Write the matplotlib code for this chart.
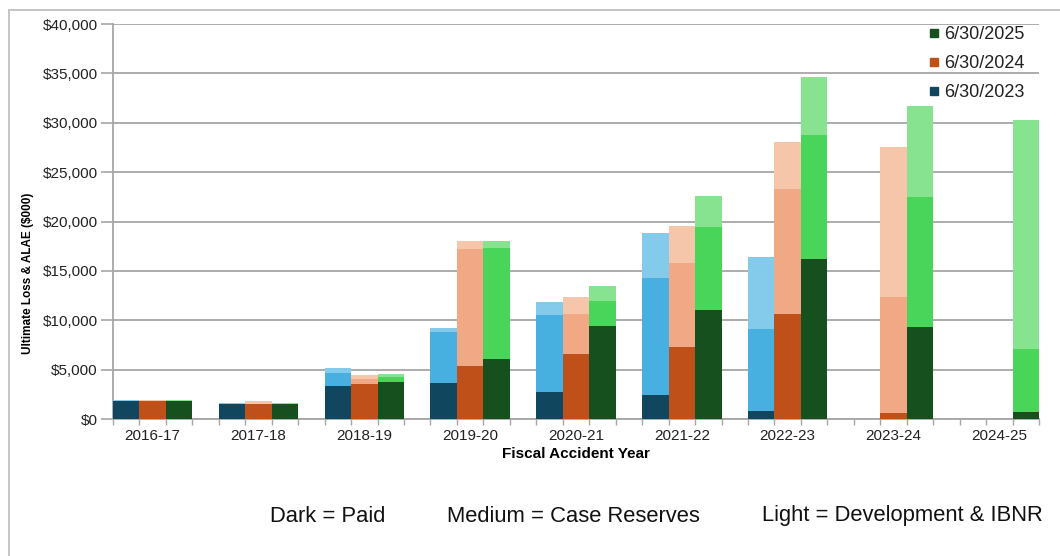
import matplotlib
matplotlib.use("Agg")
import matplotlib.pyplot as plt
from matplotlib.lines import Line2D
from matplotlib.ticker import FixedLocator, FuncFormatter

plt.rcParams['font.family'] = ['Liberation Sans', 'DejaVu Sans']

# ---------------- data ($000) ----------------
years = ['2016-17', '2017-18', '2018-19', '2019-20', '2020-21',
         '2021-22', '2022-23', '2023-24', '2024-25']
series_labels = ['6/30/2023', '6/30/2024', '6/30/2025']

paid_2023 = [1850, 1520, 3370, 3610, 2770, 2430, 840, 0, 0]
case_2023 = [0, 0, 1320, 5170, 7760, 11820, 8240, 0, 0]
ibnr_2023 = [80, 70, 470, 410, 1290, 4620, 7360, 0, 0]

paid_2024 = [1850, 1520, 3540, 5400, 6550, 7320, 10630, 570, 0]
case_2024 = [0, 0, 480, 11790, 4050, 8450, 12630, 11750, 0]
ibnr_2024 = [80, 270, 410, 840, 1720, 3810, 4820, 15260, 0]

paid_2025 = [1850, 1520, 3720, 6110, 9430, 11040, 16240, 9350, 740]
case_2025 = [0, 0, 500, 11180, 2520, 8440, 12520, 13170, 6320]
ibnr_2025 = [80, 70, 340, 740, 1550, 3100, 5840, 9180, 23220]

y_ticks = [0, 5000, 10000, 15000, 20000, 25000, 30000, 35000, 40000]

# ---------------- styles ----------------
colors = {
    '2023': ['#11465F', '#47B0E0', '#84CAEB'],
    '2024': ['#C0501A', '#F0A984', '#F5C6AA'],
    '2025': ['#16501E', '#48D55A', '#88E391'],
}
grid_c = '#A6A6A6'

W, H = 1060, 556
fig = plt.figure(figsize=(W / 100, H / 100), dpi=100)
ax = fig.add_axes([113 / W, 1 - 419 / H, (1039 - 113) / W, (419 - 24) / H])

series = [
    ('2023', paid_2023, case_2023, ibnr_2023),
    ('2024', paid_2024, case_2024, ibnr_2024),
    ('2025', paid_2025, case_2025, ibnr_2025),
]
for j, (key, paid, case, ibnr) in enumerate(series):
    xs = [4 * i + j + 0.5 for i in range(len(years))]
    c = colors[key]
    bottoms2 = [p + cs for p, cs in zip(paid, case)]
    ax.bar(xs, paid, width=1.0, color=c[0], linewidth=0, zorder=3)
    ax.bar(xs, case, width=1.0, bottom=paid, color=c[1], linewidth=0, zorder=3)
    ax.bar(xs, ibnr, width=1.0, bottom=bottoms2, color=c[2], linewidth=0, zorder=3)

ax.set_xlim(0, 35)
ax.set_ylim(0, 40000)

ax.yaxis.set_major_locator(FixedLocator(y_ticks))
ax.yaxis.set_major_formatter(FuncFormatter(lambda v, p: '${:,.0f}'.format(v)))
ax.grid(axis='y', color=grid_c, linewidth=1.3, zorder=0)
ax.set_axisbelow(True)

ax.set_xticks([4 * i + 1.5 for i in range(len(years))])
ax.set_xticklabels(years)
ax.set_xticks(list(range(0, 36)), minor=True)
ax.tick_params(axis='x', which='major', length=0, pad=7, labelsize=11, colors='#222222')
ax.tick_params(axis='x', which='minor', length=4, width=1, color=grid_c, direction='out')
ax.tick_params(axis='y', which='major', length=9, width=1.2, color=grid_c, pad=2,
               labelsize=11, labelcolor='#222222')

for s in ['top', 'right']:
    ax.spines[s].set_visible(False)
for s in ['left', 'bottom']:
    ax.spines[s].set_color(grid_c)
    ax.spines[s].set_linewidth(1.3)

ax.set_ylabel('Ultimate Loss & ALAE ($000)', fontsize=8.5, fontweight='bold')
ax.yaxis.set_label_coords((34 - 113) / 926, (419 - 273) / 395)
ax.set_xlabel('Fiscal Accident Year', fontsize=11, fontweight='bold', labelpad=3)

# legend
handles = [Line2D([], [], marker='s', linestyle='none', markersize=6,
                  color=colors[k][0]) for k in ['2025', '2024', '2023']]
leg = fig.legend(handles, series_labels[::-1], loc='upper right',
                 bbox_to_anchor=(1034 / W, 1 - 17 / H), frameon=False,
                 fontsize=13, handlelength=0.6, handletextpad=0.3,
                 labelspacing=0.66, borderpad=0)
for t in leg.get_texts():
    t.set_color('#222222')

# outer frame
fig.add_artist(Line2D([9 / W, 1], [1 - 10 / H, 1 - 10 / H], color='#BFBFBF', linewidth=1.3))
fig.add_artist(Line2D([9 / W, 9 / W], [0, 1 - 10 / H], color='#BFBFBF', linewidth=1.3))

# bottom notes
fig.text(270 / W, 1 - 516 / H, 'Dark = Paid', fontsize=15.8,
         va='center', ha='left', color='#111111')
fig.text(447 / W, 1 - 516 / H, 'Medium = Case Reserves', fontsize=15.8,
         va='center', ha='left', color='#111111')
fig.text(762 / W, 1 - 516 / H, 'Light = Development & IBNR', fontsize=15.8,
         va='center', ha='left', color='#111111')

fig.savefig('out.png', dpi=100)
